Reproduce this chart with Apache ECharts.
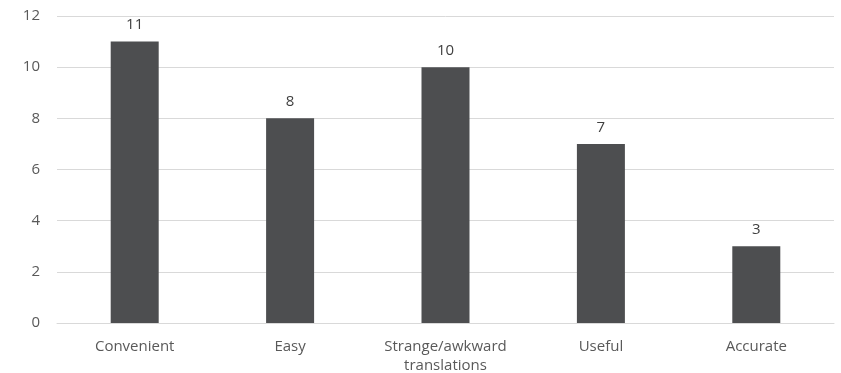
<!DOCTYPE html>
<html>
<head>
<meta charset="utf-8">
<script src="https://cdn.jsdelivr.net/npm/echarts@6/dist/echarts.min.js"></script>
<style>
  html, body { margin: 0; padding: 0; background: #ffffff; }
  #chart { width: 841px; height: 373px; }
</style>
</head>
<body>
<div id="chart"></div>
<script>
// Response categories and counts
const categories = ['Convenient', 'Easy', 'Strange/awkward\ntranslations', 'Useful', 'Accurate'];
const counts = [11, 8, 10, 7, 3];
const yTicks = { min: 0, max: 12, interval: 2 };

const textColor = '#595959';
const fontFamily = '"Open Sans", "Noto Sans", sans-serif';

const chart = echarts.init(document.getElementById('chart'), null, { renderer: 'canvas' });
chart.setOption({
  animation: false,
  backgroundColor: '#ffffff',
  grid: {
    left: 57, right: 7, top: 16, bottom: 50,
    containLabel: false, outerBoundsMode: 'none'
  },
  xAxis: {
    type: 'category',
    data: categories,
    axisLine: { show: true, lineStyle: { color: '#d9d9d9', width: 1 } },
    axisTick: { show: false },
    axisLabel: {
      color: textColor, fontFamily: fontFamily, fontSize: 15,
      margin: 14, lineHeight: 19, interval: 0
    }
  },
  yAxis: {
    type: 'value',
    min: yTicks.min, max: yTicks.max, interval: yTicks.interval,
    axisLine: { show: false },
    axisTick: { show: false },
    splitLine: { lineStyle: { color: '#d9d9d9', width: 1 } },
    axisLabel: { color: textColor, fontFamily: fontFamily, fontSize: 15, margin: 17 }
  },
  series: [{
    type: 'bar',
    data: counts,
    barWidth: 48,
    itemStyle: { color: '#4d4e50' },
    label: {
      show: true, position: 'top', distance: 9,
      color: '#404040', fontFamily: fontFamily, fontSize: 15
    }
  }]
});
</script>
</body>
</html>
